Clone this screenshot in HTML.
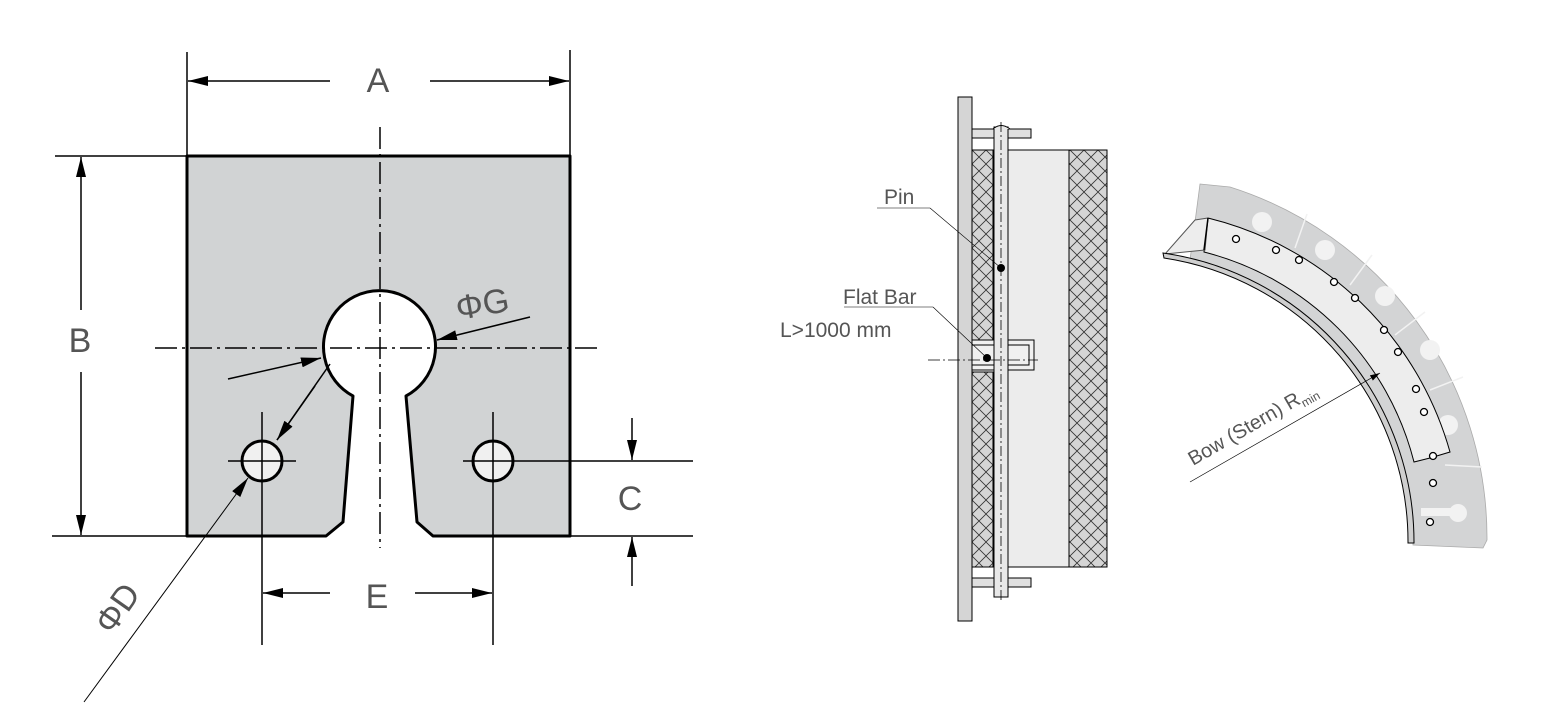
<!DOCTYPE html>
<html><head><meta charset="utf-8"><style>html,body{margin:0;padding:0;background:#fff}svg{display:block}</style></head>
<body>
<svg width="1546" height="722" viewBox="0 0 1546 722" xmlns="http://www.w3.org/2000/svg" font-family="'Liberation Sans', sans-serif">
<defs>
<marker id="ar" viewBox="0 0 20 10" refX="20" refY="5" markerWidth="20" markerHeight="10" markerUnits="userSpaceOnUse" orient="auto"><path d="M0,0 L20,5 L0,10 z" fill="#000"/></marker>
<marker id="ars" viewBox="0 0 10 6" refX="10" refY="3" markerWidth="10" markerHeight="6" markerUnits="userSpaceOnUse" orient="auto"><path d="M0,0 L10,3 L0,6 z" fill="#000"/></marker>
<pattern id="hatch" width="14" height="14" patternUnits="userSpaceOnUse" x="972" y="150">
<rect width="14" height="14" fill="#d5d5d5"/>
<path d="M0,0 L14,14 M14,0 L0,14" stroke="#333" stroke-width="0.8"/>
</pattern>
</defs>

<!-- LEFT FIGURE -->
<path d="M187,156 H570 V536 H433 L417,522 L406,396 A56,56 0 1 0 353,396 L343,522 L326,536 H187 Z" fill="#d1d3d4" stroke="#000" stroke-width="3" stroke-linejoin="round"/>
<circle cx="262" cy="461" r="20" fill="#f0f0f0" stroke="#000" stroke-width="3"/>
<circle cx="493" cy="461" r="20" fill="#f0f0f0" stroke="#000" stroke-width="3"/>
<line x1="380" y1="127" x2="380" y2="548" stroke="#000" stroke-width="1.5" stroke-dasharray="22,5,3,5"/>
<line x1="155" y1="348" x2="598" y2="348" stroke="#000" stroke-width="1.5" stroke-dasharray="22,5,3,5"/>
<g stroke="#000" stroke-width="1.5">
<line x1="228" y1="461" x2="296" y2="461"/><line x1="262" y1="412" x2="262" y2="645"/>
<line x1="463" y1="461" x2="693" y2="461"/><line x1="493" y1="412" x2="493" y2="645"/>
<line x1="187" y1="52" x2="187" y2="156"/><line x1="570" y1="50" x2="570" y2="156"/>
<line x1="330" y1="81" x2="188" y2="81" marker-end="url(#ar)"/>
<line x1="430" y1="81" x2="569" y2="81" marker-end="url(#ar)"/>
<line x1="55" y1="156" x2="187" y2="156"/><line x1="52" y1="536" x2="187" y2="536"/>
<line x1="81" y1="310" x2="81" y2="157" marker-end="url(#ar)"/>
<line x1="81" y1="372" x2="81" y2="535" marker-end="url(#ar)"/>
<line x1="570" y1="536" x2="693" y2="536"/>
<line x1="632" y1="418" x2="632" y2="460" marker-end="url(#ar)"/>
<line x1="632" y1="586" x2="632" y2="537" marker-end="url(#ar)"/>
<line x1="330" y1="593" x2="263" y2="593" marker-end="url(#ar)"/>
<line x1="415" y1="593" x2="492" y2="593" marker-end="url(#ar)"/>
<line x1="530" y1="317" x2="437" y2="340" marker-end="url(#ar)"/>
<line x1="228" y1="379" x2="321" y2="358" marker-end="url(#ar)"/>
<line x1="315" y1="386" x2="277" y2="440" marker-end="url(#ar)"/>
<line x1="277" y1="440" x2="330" y2="364"/>
<line x1="84" y1="702" x2="248" y2="478" stroke-width="1" marker-end="url(#ar)"/>
</g>
<g fill="#555" font-size="34">
<text x="378" y="92" text-anchor="middle">A</text>
<text x="80" y="352" text-anchor="middle">B</text>
<text x="630" y="510" text-anchor="middle">C</text>
<text x="377" y="608" text-anchor="middle">E</text>
<text x="458" y="320" transform="rotate(-10 458 320)">ΦG</text>
<text x="112" y="636" transform="rotate(-55 112 636)">ΦD</text>
</g>

<!-- MIDDLE FIGURE -->
<rect x="958" y="97" width="14" height="524" fill="#d5d5d5" stroke="#000" stroke-width="1"/>
<rect x="972" y="150" width="21" height="198" fill="url(#hatch)" stroke="#000" stroke-width="1"/>
<rect x="972" y="372" width="21" height="195" fill="url(#hatch)" stroke="#000" stroke-width="1"/>
<rect x="1008" y="150" width="61" height="417" fill="#ececec" stroke="#000" stroke-width="1"/>
<rect x="1069" y="150" width="38" height="417" fill="url(#hatch)" stroke="#000" stroke-width="1"/>
<rect x="972" y="129" width="59" height="9" fill="#e0e0e0" stroke="#000" stroke-width="1"/>
<rect x="972" y="578" width="59" height="9" fill="#e0e0e0" stroke="#000" stroke-width="1"/>
<rect x="972" y="340" width="62" height="30" fill="#f0f0f0" stroke="#000" stroke-width="1"/>
<path d="M972,345 H1029 V365 H972" fill="none" stroke="#000" stroke-width="1"/>
<rect x="994" y="127" width="14" height="470" fill="#e8e8e8" stroke="#000" stroke-width="1"/>
<path d="M993,129 Q1001,122 1010,129" fill="#e8e8e8" stroke="#000" stroke-width="1"/>
<line x1="1001" y1="122" x2="1001" y2="603" stroke="#000" stroke-width="0.8" stroke-dasharray="10,3,2,3"/>
<line x1="928" y1="360" x2="1038" y2="360" stroke="#000" stroke-width="0.8" stroke-dasharray="12,3,2,3"/>
<circle cx="1001" cy="268" r="4" fill="#000"/>
<circle cx="987" cy="358" r="4" fill="#000"/>
<g stroke="#000" stroke-width="0.6">
<line x1="877" y1="208" x2="930" y2="208"/><line x1="930" y1="208" x2="1001" y2="268"/>
<line x1="844" y1="307" x2="933" y2="307"/><line x1="933" y1="307" x2="987" y2="358"/>
</g>
<g fill="#555" font-size="21">
<text x="884" y="204">Pin</text>
<text x="843" y="304">Flat Bar</text>
<text x="780" y="337">L&gt;1000 mm</text>
</g>

<!-- RIGHT FIGURE -->
<path d="M1200,184 L1230,187 A368,368 0 0 1 1487,540 L1483,548 L1413,545 A292,292 0 0 0 1190,260 Z" fill="#d3d4d5" stroke="#aaa" stroke-width="0.8"/>
<g stroke="#f2f2f2" stroke-width="1.5">
<line x1="1307" y1="214" x2="1295" y2="248"/>
<line x1="1372" y1="255" x2="1350" y2="285"/>
<line x1="1425" y1="312" x2="1395" y2="335"/>
<line x1="1463" y1="377" x2="1430" y2="390"/>
<line x1="1482" y1="467" x2="1445" y2="465"/>
</g>
<g fill="#f2f2f2">
<circle cx="1262" cy="222" r="10"/><circle cx="1325" cy="250" r="10"/><circle cx="1385" cy="296" r="10"/>
<circle cx="1430" cy="350" r="10"/><circle cx="1448" cy="425" r="10"/><circle cx="1458" cy="513" r="9"/>
<rect x="1421" y="508" width="38" height="8"/>
</g>
<path d="M1208,218 A334,334 0 0 1 1450,452 L1430,458 L1414,462 A290,290 0 0 0 1204,252 Z" fill="#ededed" stroke="#000" stroke-width="1"/>
<path d="M1205,250 L1165,254 L1195,220 L1208,218 Z" fill="#ededed" stroke="#555" stroke-width="1"/>
<line x1="1208" y1="218" x2="1204" y2="250" stroke="#000" stroke-width="1.5"/>
<path d="M1163,253 A292,292 0 0 1 1414,543 L1408,543 A287,287 0 0 0 1164,258 Z" fill="#cfcfcf" stroke="#000" stroke-width="1"/>
<g fill="#fff" stroke="#000" stroke-width="1.3">
<circle cx="1236" cy="239" r="3.5"/><circle cx="1276" cy="250" r="3.5"/><circle cx="1299" cy="260" r="3.5"/>
<circle cx="1334" cy="282" r="3.5"/><circle cx="1355" cy="298" r="3.5"/><circle cx="1384" cy="330" r="3.5"/>
<circle cx="1398" cy="352" r="3.5"/><circle cx="1416" cy="389" r="3.5"/><circle cx="1424" cy="412" r="3.5"/>
<circle cx="1433" cy="456" r="3.5"/><circle cx="1433" cy="483" r="3.5"/><circle cx="1430" cy="522" r="3.5"/>
</g>
<line x1="1190" y1="482" x2="1380" y2="373" stroke="#000" stroke-width="0.7" marker-end="url(#ars)"/>
<g transform="rotate(-30 1193 466)" fill="#555">
<text x="1193" y="466" font-size="20">Bow (Stern) R<tspan font-size="12" dy="5">min</tspan></text>
</g>
</svg>
</body></html>
